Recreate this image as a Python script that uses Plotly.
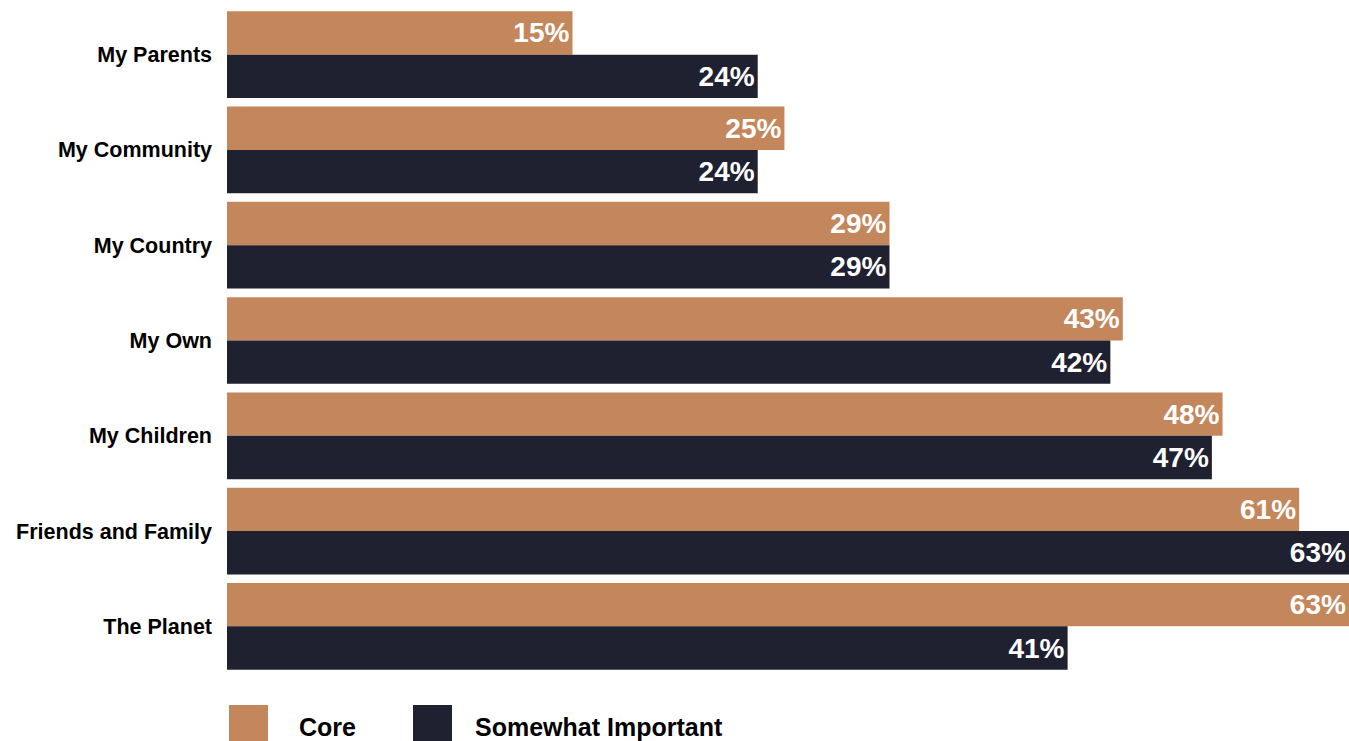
import plotly.graph_objects as go

categories = ["My Parents", "My Community", "My Country", "My Own",
              "My Children", "Friends and Family", "The Planet"]
series_names = ["Core", "Somewhat Important"]
# bar lengths as drawn in the picture (axis spans 0..63)
core_values = [19.4, 31.3, 37.2, 50.3, 55.9, 60.2, 63.0]
important_values = [29.8, 29.8, 37.2, 49.6, 55.3, 63.0, 47.2]
# printed labels
core_labels = ["15%", "25%", "29%", "43%", "48%", "61%", "63%"]
important_labels = ["24%", "24%", "29%", "42%", "47%", "63%", "41%"]

colors = ["#C4875C", "#1F2030"]
W, H = 1349, 741
L, R, T, B = 227, 0, 7, 67
FONT = "Liberation Sans, Arial, sans-serif"

fig = go.Figure()
for name, vals, labs, col in [
    (series_names[0], core_values, core_labels, colors[0]),
    (series_names[1], important_values, important_labels, colors[1]),
]:
    fig.add_trace(go.Bar(
        y=categories, x=vals, name=name, orientation="h",
        marker=dict(color=col, line=dict(width=0)),
        text=labs, textposition="inside", insidetextanchor="end",
        textfont=dict(family=FONT, size=28, color="white", weight="bold"),
        constraintext="none", cliponaxis=True, showlegend=False,
    ))

fig.update_layout(
    width=W, height=H,
    margin=dict(l=L, r=R, t=T, b=B, pad=0),
    paper_bgcolor="white", plot_bgcolor="white",
    barmode="group", bargap=0.09, bargroupgap=0,
    font=dict(family=FONT, color="#000000"),
    xaxis=dict(range=[0, 63], visible=False, fixedrange=True),
    yaxis=dict(autorange="reversed", showgrid=False, zeroline=False,
               showline=False, ticks="", ticklabelstandoff=14,
               tickfont=dict(family=FONT, size=21.5, color="#000000", weight="bold")),
    uniformtext=dict(mode=False),
)

# manual legend
plot_h = H - T - B
plot_w = W - L - R
def px_x(x):
    return (x - L) / plot_w
def px_y(y):
    return (H - B - y) / plot_h

legend_items = [(series_names[0], colors[0], 229, 297), (series_names[1], colors[1], 413, 473)]
for name, col, sx, tx in legend_items:
    fig.add_shape(type="rect", xref="paper", yref="paper",
                  x0=px_x(sx), x1=px_x(sx + 39), y0=px_y(705), y1=px_y(750),
                  fillcolor=col, line=dict(width=0))
    fig.add_annotation(xref="paper", yref="paper", x=px_x(tx), y=px_y(727),
                       text=name, showarrow=False, xanchor="left", yanchor="middle",
                       font=dict(family=FONT, size=25, color="#000000", weight="bold"))

fig.write_html("out.html")
